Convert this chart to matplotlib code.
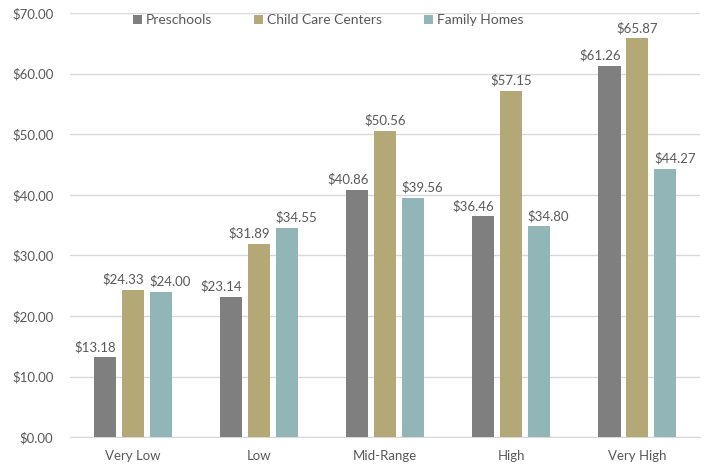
import matplotlib
matplotlib.use("Agg")
import matplotlib.pyplot as plt
import numpy as np

categories = ["Very Low", "Low", "Mid-Range", "High", "Very High"]
preschools = [13.18, 23.14, 40.86, 36.46, 61.26]
child_care = [24.33, 31.89, 50.56, 57.15, 65.87]
family_homes = [24.00, 34.55, 39.56, 34.80, 44.27]

# label alignment per bar so neighbouring value labels don't collide
series = [
    ("Preschools", preschools, "#7f7f7f", ["right"] * 5),
    ("Child Care Centers", child_care, "#b3a876", ["right", "right", "center", "center", "center"]),
    ("Family Homes", family_homes, "#92b5b8", ["left"] * 5),
]

plt.rcParams["font.family"] = ["Lato", "DejaVu Sans"]
text_color = "#595959"
fs = 9.5

fig = plt.figure(figsize=(7.05, 4.70), dpi=100)
ax = fig.add_axes([0.0993, 0.07, 0.894, 0.902])

x = np.arange(len(categories))
width = 0.175
step = 0.22
for i, (name, values, color, aligns) in enumerate(series):
    pos = x + (i - 1) * step
    bars = ax.bar(pos, values, width, color=color, label=name, zorder=3)
    for b, v, ha in zip(bars, values, aligns):
        if ha == "right":
            tx = b.get_x() + b.get_width()
        elif ha == "left":
            tx = b.get_x()
        else:
            tx = b.get_x() + b.get_width() / 2
        ax.annotate(f"${v:.2f}", (tx, v), xytext=(0, 3), textcoords="offset points",
                    ha=ha, va="bottom", fontsize=fs, color=text_color)

ax.set_ylim(0, 70)
ax.set_xlim(-0.5, len(categories) - 0.5)
ax.set_yticks(np.arange(0, 71, 10))
ax.set_yticklabels([f"${t:.2f}" for t in np.arange(0, 71, 10)])
ax.set_xticks(x)
ax.set_xticklabels(categories)
ax.tick_params(axis="both", length=0, labelsize=fs, colors=text_color)
ax.tick_params(axis="x", pad=9)
ax.tick_params(axis="y", pad=12)
ax.grid(axis="y", color="#d9d9d9", linewidth=1, zorder=0)
for s in ["top", "right", "left"]:
    ax.spines[s].set_visible(False)
ax.spines["bottom"].set_color("#d9d9d9")

ax.legend(loc="center", bbox_to_anchor=(0.41, 0.983), ncol=3, frameon=False,
          fontsize=fs + 0.5, labelcolor=text_color, handlelength=0.65, handleheight=0.65,
          handletextpad=0.3, columnspacing=3.0, borderpad=0)

fig.savefig("out.png", dpi=100)
